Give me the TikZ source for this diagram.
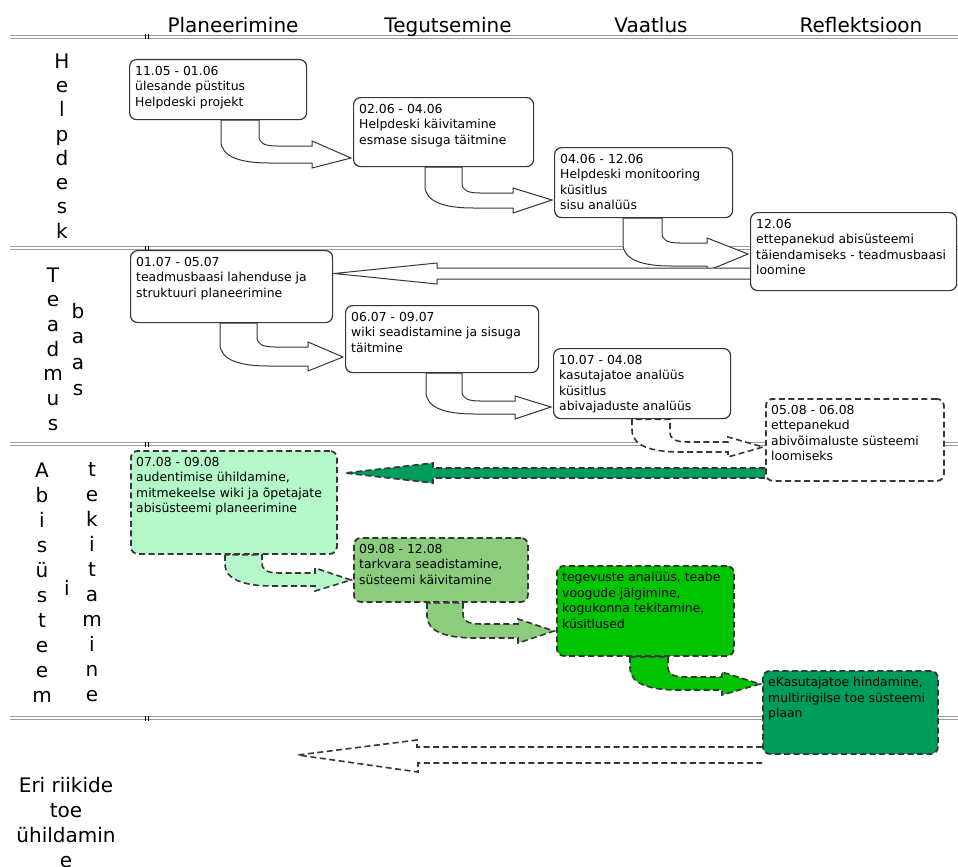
\documentclass[tikz,border=0pt]{standalone}
\usepackage{fontspec}
\setmainfont{DejaVu Sans}
\usetikzlibrary{calc}

\definecolor{rule}{HTML}{9C9C9C}
\definecolor{edge}{HTML}{363636}
\definecolor{mint}{HTML}{B4F7C8}
\definecolor{leaf}{HTML}{8CCD7D}
\definecolor{vivid}{HTML}{00C400}
\definecolor{pine}{HTML}{009C5C}

\pgfdeclarelayer{rules}
\pgfdeclarelayer{arrows}
\pgfsetlayers{rules,arrows,main}

\tikzset{
  sectionrule/.style={draw=rule, line width=0.9pt, double=white, double distance=1.4pt},
  phase/.style={font=\fontsize{20}{24}\selectfont, anchor=base, inner sep=0},
  lane/.style={font=\fontsize{20}{#1}\selectfont, align=center, anchor=north, inner sep=0},
  lane/.default=25,
  card/.style={draw=edge, line width=1.2pt, rounded corners=7pt, fill=white, anchor=north west, inner sep=0},
  dcard/.style={card, line width=1.8pt, dash pattern=on 6pt off 3.5pt},
  cardtext/.style={font=\fontsize{12.4}{15.5}\selectfont, align=left, anchor=north west, inner sep=0},
  hollow/.style={draw=edge, line width=1pt, fill=white},
  dashedarrow/.style={draw=edge, line width=1.6pt, dash pattern=on 6pt off 3.5pt, fill=#1},
}

% box node plus its text block, top-left aligned
\newcommand\card[7]{%
  \node[#2, minimum width=#5pt, minimum height=#6pt] (#1) at (#3,-#4) {};
  \node[cardtext] (#1t) at ($(#1.north west)+(6,-7)$) {#7};}

% block arrow leaving the bottom of one box and turning right into the next
% #1 style, #2 source, #3 outer leg x, #4 inner leg x, #5 shaft top y,
% #6 shaft bottom y, #7 head base x, #8 target, #9 tip y
\newcommand\turnarrow[9]{%
  \draw[#1] (#3,0 |- #2.south) -- (#3,-#6+22)
    .. controls (#3,-#6+6) and (#3+20,-#6) .. (#3+48,-#6)
    -- (#7,-#6) -- (#7,-#6-5)
    -- ($(#8.west |- 0,-#9)+(-2,0)$)
    -- (#7,-#5+5) -- (#7,-#5) -- (#4+18,-#5)
    .. controls (#4+5,-#5) and (#4,-#5+3) .. (#4,-#5+10)
    -- (#4,0 |- #2.south) -- cycle;}

% straight block arrow pointing left from one box to another
% #1 style, #2 source, #3 target, #4 shaft top y, #5 shaft bottom y,
% #6 head base x, #7 tip y, #8 gap to target
\newcommand\backarrow[8]{%
  \draw[#1] (#2.west |- 0,-#4) -- (#6,-#4) -- (#6,-#4+5)
    -- ($(#3.east |- 0,-#7)+(#8,0)$)
    -- (#6,-#5-5) -- (#6,-#5) -- (#2.west |- 0,-#5);}

\begin{document}
\begin{tikzpicture}[x=1pt,y=1pt]
\useasboundingbox (0,0) rectangle (958,-867);

\begin{pgfonlayer}{rules}
\fill[white] (0,0) rectangle (958,-867);
% lane separators
\foreach \yy in {37,248,444,718}{
  \draw[sectionrule] (10,-\yy) -- (958,-\yy);
  \fill[black] (144.8,-\yy+2.5) rectangle (146.1,-\yy-2.5);
  \fill[black] (147.6,-\yy+2.5) rectangle (148.9,-\yy-2.5);
}
\end{pgfonlayer}

% phase headings
\node[phase] (h1) at (233,-33) {Planeerimine};
\node[phase] (h2) at (448,-33) {Tegutsemine};
\node[phase] (h3) at (651,-33) {Vaatlus};
\node[phase] (h4) at (861,-33) {Reflektsioon};

% lane titles
\node[lane=24.3] (l1) at (62,-53.4) {H\\e\\l\\p\\d\\e\\s\\k};
\node[lane=24.7] (l2a) at (53,-267.4) {T\\e\\a\\d\\m\\u\\s};
\node[lane=25.6] (l2b) at (78,-302.8) {b\\a\\a\\s};
\node[lane=25] (l3a) at (42,-462.4) {A\\b\\i\\s\\ü\\s\\t\\e\\e\\m};
\node[phase] (l3b) at (67,-595) {i};
\node[lane=25] (l3c) at (92,-462.7) {t\\e\\k\\i\\t\\a\\m\\i\\n\\e};
\node[lane=25] (l4) at (66,-776.8) {Eri riikide\\toe\\ühildamin\\e};

% boxes
\card{b1}{card}{129}{59}{177}{60}{11.05 - 01.06\\ülesande püstitus\\Helpdeski projekt}
\card{b2}{card}{353}{97}{180}{69}{02.06 - 04.06\\Helpdeski käivitamine\\esmase sisuga täitmine}
\card{b3}{card}{554}{147}{178}{70}{04.06 - 12.06\\Helpdeski monitooring\\küsitlus\\sisu analüüs}
\card{b4}{card}{750}{212}{206}{78}{12.06\\ettepanekud abisüsteemi\\täiendamiseks - teadmusbaasi\\loomine}
\card{b5}{card}{130}{250}{202}{72}{01.07 - 05.07\\teadmusbaasi lahenduse ja\\struktuuri planeerimine}
\card{b6}{card}{345}{305}{193}{67}{06.07 - 09.07\\wiki seadistamine ja sisuga\\täitmine}
\card{b7}{card}{553}{348}{177}{70}{10.07 - 04.08\\kasutajatoe analüüs\\küsitlus\\abivajaduste analüüs}
\card{b8}{dcard}{765}{398}{178}{82}{05.08 - 06.08\\ettepanekud\\abivõimaluste süsteemi\\loomiseks}
\card{g1}{dcard, fill=mint}{130}{450}{206}{103}{07.08 - 09.08\\audentimise ühildamine,\\mitmekeelse wiki ja õpetajate\\abisüsteemi planeerimine}
\card{g2}{dcard, fill=leaf}{353}{537}{174}{64}{09.08 - 12.08\\tarkvara seadistamine,\\süsteemi käivitamine}
\card{g3}{dcard, fill=vivid}{556}{565}{177}{90}{tegevuste analüüs, teabe\\voogude jälgimine,\\kogukonna tekitamine,\\küsitlused}
\card{g4}{dcard, fill=pine}{762}{670}{175}{83}{eKasutajatoe hindamine,\\multiriigilse toe süsteemi\\plaan}

% arrows, kept beneath the boxes
\begin{pgfonlayer}{arrows}
\turnarrow{hollow}{b1}{221}{259}{146}{163}{312}{b2}{158}
\turnarrow{hollow}{b2}{425}{462}{193}{208}{513}{b3}{200}
\turnarrow{hollow}{b3}{623}{662}{243}{266}{707}{b4}{254}
\backarrow{hollow}{b4}{b5}{268}{279}{437}{273.5}{1}
\turnarrow{hollow}{b5}{220}{257}{347}{366}{308}{b6}{357}
\turnarrow{hollow}{b6}{426}{462}{401}{414}{515}{b7}{407}
\turnarrow{dashedarrow=white}{b7}{632}{670}{442}{452}{728}{b8}{447}
\backarrow{dashedarrow=pine}{b8}{g1}{468}{478}{433}{473}{7}
\turnarrow{dashedarrow=mint}{g1}{225}{262}{573}{586}{315}{g2}{580}
\turnarrow{dashedarrow=leaf}{g2}{427}{463}{624}{638}{518}{g3}{631}
\turnarrow{dashedarrow=vivid}{g3}{630}{668}{677}{690}{722}{g4}{684}
\coordinate (eritip) at (298,-755);
\draw[dashedarrow=white] (g4.west |- 0,-747) -- (417,-747) -- (417,-740)
  -- (eritip) -- (418,-772) -- (418,-763) -- (g4.west |- 0,-763);
\end{pgfonlayer}
\end{tikzpicture}
\end{document}
